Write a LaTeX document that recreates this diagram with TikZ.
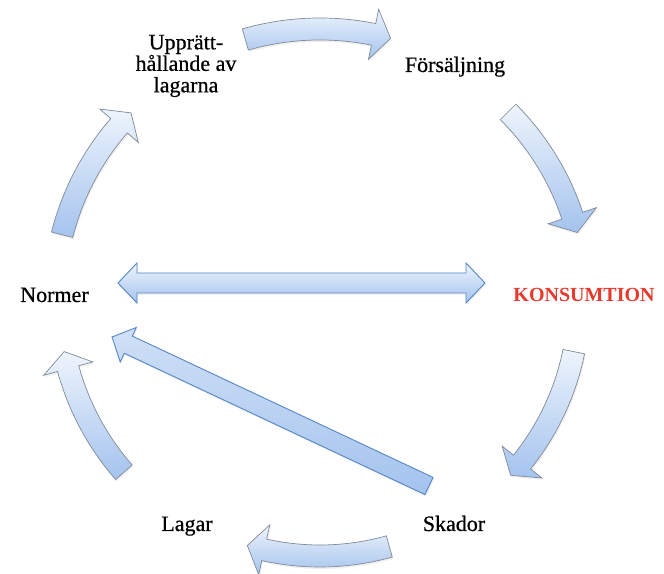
\documentclass[tikz,border=0pt]{standalone}
\usepackage{fontspec}
\setmainfont{Liberation Serif}[UprightFeatures={FakeBold=0.6}]
\usetikzlibrary{calc}
\usetikzlibrary{shadows}

\definecolor{konsred}{RGB}{232,56,44}
\definecolor{arrowtop}{RGB}{238,244,252}
\definecolor{arrowbottom}{RGB}{164,195,238}
\definecolor{ringline}{RGB}{128,138,152}
\definecolor{barline}{RGB}{84,134,200}

% curved block arrow on the ring round (O): from angle, to angle, radius
\newcommand{\ringarrow}[3]{%
  \pgfmathsetmacro{\headang}{#2+17.5*180/(pi*#3)}%
  \pgfmathsetmacro{\outr}{#3+11}%
  \pgfmathsetmacro{\innr}{#3-11}%
  \pgfmathsetmacro{\hout}{#3+25.5}%
  \pgfmathsetmacro{\hinn}{#3-25.5}%
  \shade[ringarrowstyle] ($(O)+(#1:\outr)$) arc[start angle=#1, end angle=\headang, radius=\outr]
    -- ($(O)+(\headang:\hout)$) -- ($(O)+(#2:#3)$) -- ($(O)+(\headang:\hinn)$)
    -- ($(O)+(\headang:\innr)$) arc[start angle=\headang, end angle=#1, radius=\innr] -- cycle;
}

\begin{document}
\begin{tikzpicture}[x=1bp, y=1bp,
            labeltext/.style={font=\fontsize{22bp}{21.5bp}\selectfont, text=black, inner sep=0pt},
            ringarrowstyle/.style={draw=ringline, line width=0.7bp, top color=arrowtop, bottom color=arrowbottom,
                drop shadow={opacity=0.12, shadow xshift=1bp, shadow yshift=-2bp}},
            bararrowstyle/.style={draw=barline, line width=0.9bp, top color=arrowtop, bottom color=arrowbottom,
                drop shadow={opacity=0.12, shadow xshift=1bp, shadow yshift=-2bp}},
            ]
            \useasboundingbox (0,0) rectangle (664,574);
            \coordinate (O) at (320,274);

            \node[labeltext, align=center] (U) at (186,508) {Upprätt-\\hållande av\\lagarna};
            \node[labeltext, anchor=base] (F) at (455,502) {Försäljning};
            \node[labeltext, anchor=base, text=konsred, font=\fontsize{20bp}{22bp}\selectfont\bfseries] (K) at (584,272) {KONSUMTION};
            \node[labeltext, anchor=base] (S) at (454,43) {Skador};
            \node[labeltext, anchor=base] (L) at (187,43) {Lagar};
            \node[labeltext, anchor=base] (N) at (54.5,272) {Normer};

            % the ring
            \ringarrow{106}{74.9}{271}
            \ringarrow{45}{14.7}{266}
            \ringarrow{-11.5}{-42.6}{259}
            \ringarrow{-74.3}{-106.5}{256}
            \ringarrow{221.3}{191.4}{261}
            \ringarrow{165.8}{135.3}{266}

            % Normer <-> KONSUMTION
            \coordinate (NK1) at (118,291);
            \coordinate (NK2) at (485,291);
            \coordinate (h1) at ($(NK1)!19bp!(NK2)$);
            \coordinate (h2) at ($(NK2)!19bp!(NK1)$);
            \shade[bararrowstyle] (NK1) -- ($(h1)!20bp!90:(NK2)$) -- ($(h1)!10bp!90:(NK2)$)
                -- ($(h2)!10bp!-90:(NK1)$) -- ($(h2)!20bp!-90:(NK1)$) -- (NK2)
                -- ($(h2)!20bp!90:(NK1)$) -- ($(h2)!10bp!90:(NK1)$)
                -- ($(h1)!10bp!-90:(NK2)$) -- ($(h1)!20bp!-90:(NK2)$) -- cycle;

            % Skador -> Normer
            \coordinate (SN1) at (429,88);
            \coordinate (SN2) at (112,237);
            \coordinate (h3) at ($(SN2)!18bp!(SN1)$);
            \shade[bararrowstyle, top color=arrowtop!60!arrowbottom] ($(SN1)!9.5bp!90:(SN2)$) -- ($(h3)!9.5bp!90:(SN2)$) -- ($(h3)!19bp!90:(SN2)$)
                -- (SN2) -- ($(h3)!19bp!-90:(SN2)$) -- ($(h3)!9.5bp!-90:(SN2)$) -- ($(SN1)!9.5bp!-90:(SN2)$) -- cycle;
        \end{tikzpicture}
\end{document}
